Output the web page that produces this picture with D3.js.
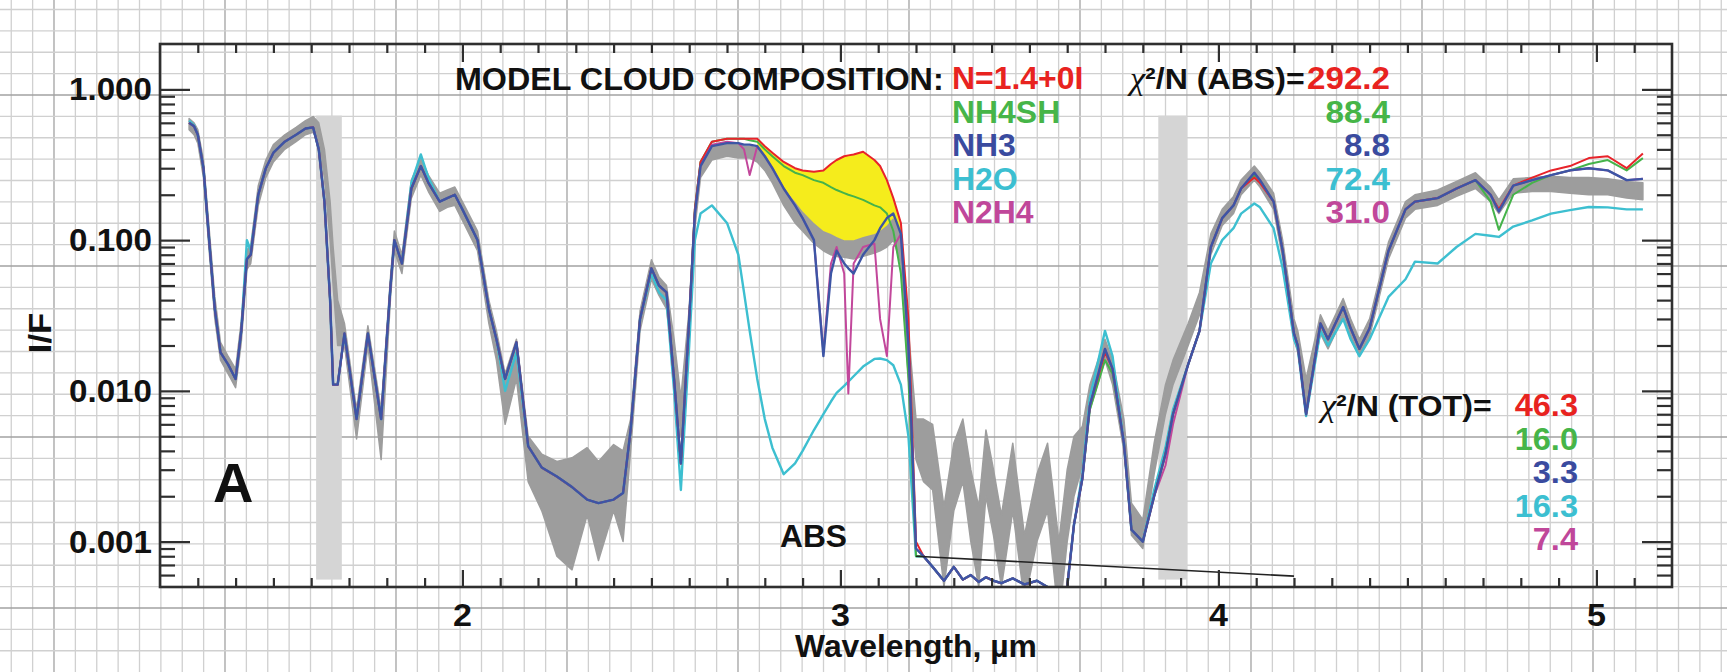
<!DOCTYPE html>
<html><head><meta charset="utf-8">
<script src="https://cdn.jsdelivr.net/npm/d3@7"></script>
<style>html,body{margin:0;padding:0;background:#fff;overflow:hidden}</style>
</head><body>
<svg id="chart" width="1727" height="672"></svg>
<script>
// ---------------- DATA ----------------
const wavelength = [
1.277,1.29,1.30,1.315,1.33,1.345,1.36,1.38,1.40,1.415,
1.43,1.44,1.46,1.48,1.50,1.53,1.56,1.585,1.605,1.62,
1.635,1.65,1.658,1.67,1.688,1.72,1.75,1.785,1.81,1.82,
1.84,1.865,1.89,1.91,1.94,1.96,1.98,2.00,2.04,2.07,
2.09,2.113,2.143,2.174,2.21,2.25,2.29,2.33,2.36,2.40,
2.425,2.445,2.47,2.50,2.52,2.54,2.56,2.578,2.60,2.615,
2.63,2.66,2.70,2.73,2.745,2.76,2.78,2.80,2.82,2.85,
2.88,2.90,2.93,2.955,2.975,2.99,3.01,3.021,3.035,3.06,
3.09,3.105,3.123,3.14,3.16,3.18,3.20,3.22,3.244,3.274,
3.30,3.324,3.345,3.366,3.385,3.405,3.426,3.456,3.487,3.52,
3.548,3.578,3.60,3.618,3.64,3.66,3.70,3.72,3.75,3.77,
3.80,3.83,3.86,3.88,3.92,3.95,3.98,4.01,4.04,4.06,
4.095,4.11,4.146,4.17,4.20,4.21,4.232,4.27,4.29,4.33,
4.35,4.373,4.40,4.45,4.495,4.52,4.58,4.63,4.68,4.72,
4.742,4.78,4.83,4.88,4.93,4.98,5.03,5.08,5.123];

// observed I/F uncertainty envelope (gray band)
const observedLow = [
0.54,0.50,0.44,0.26,0.085,0.030,0.016,0.013,0.0105,0.021,
0.064,0.07,0.17,0.26,0.33,0.40,0.45,0.50,0.52,0.44,
0.26,0.10,0.05,0.02,0.02,0.0048,0.02,0.0035,0.042,0.085,
0.06,0.19,0.27,0.21,0.155,0.165,0.17,0.135,0.085,0.028,
0.016,0.006,0.012,0.0025,0.0016,0.0008,0.00065,0.0015,0.00075,0.0016,
0.001,0.004,0.025,0.055,0.043,0.035,0.014,0.005,0.025,0.12,
0.26,0.34,0.36,0.35,0.35,0.35,0.33,0.29,0.24,0.17,
0.13,0.115,0.095,0.085,0.08,0.078,0.077,0.076,0.075,0.078,
0.082,0.085,0.09,0.10,0.07,0.012,0.0035,0.0025,0.0022,0.0005,
0.0016,0.0025,0.001,0.0005,0.002,0.0011,0.0005,0.0016,0.0004,0.001,
0.0016,0.0003,0.001,0.002,0.0032,0.0075,0.016,0.011,0.004,0.0011,
0.0009,0.0028,0.007,0.011,0.02,0.032,0.08,0.125,0.15,0.20,
0.25,0.225,0.16,0.075,0.022,0.018,0.008,0.024,0.019,0.031,
0.022,0.017,0.023,0.075,0.14,0.16,0.17,0.195,0.22,0.18,
0.15,0.205,0.21,0.21,0.205,0.20,0.20,0.19,0.185];
const observedHigh = [
0.64,0.60,0.54,0.34,0.12,0.042,0.021,0.017,0.014,0.029,
0.086,0.092,0.23,0.34,0.43,0.50,0.56,0.62,0.66,0.60,
0.40,0.18,0.09,0.04,0.028,0.0075,0.027,0.0075,0.058,0.115,
0.08,0.25,0.35,0.27,0.205,0.215,0.225,0.18,0.115,0.04,
0.025,0.013,0.022,0.005,0.0038,0.0034,0.0036,0.0042,0.0034,0.0044,
0.004,0.0065,0.034,0.074,0.057,0.05,0.022,0.009,0.035,0.17,
0.33,0.42,0.43,0.43,0.42,0.42,0.41,0.36,0.30,0.22,
0.18,0.155,0.13,0.115,0.11,0.105,0.10,0.10,0.10,0.105,
0.11,0.115,0.125,0.14,0.11,0.025,0.0065,0.0065,0.006,0.0017,
0.0045,0.0065,0.003,0.0017,0.0055,0.003,0.0015,0.0045,0.0011,0.0028,
0.0045,0.001,0.003,0.005,0.0058,0.011,0.022,0.016,0.0065,0.0018,
0.0014,0.0045,0.011,0.016,0.028,0.045,0.11,0.16,0.195,0.25,
0.31,0.28,0.205,0.10,0.03,0.025,0.012,0.032,0.025,0.041,
0.03,0.022,0.03,0.097,0.18,0.20,0.215,0.245,0.28,0.225,
0.185,0.255,0.26,0.265,0.26,0.26,0.255,0.245,0.24];

// model spectra
const modelN14 = [
0.60,0.57,0.50,0.30,0.10,0.035,0.018,0.015,0.012,0.025,
0.075,0.08,0.20,0.30,0.38,0.45,0.50,0.55,0.56,0.40,
0.18,0.04,0.011,0.011,0.024,0.0065,0.024,0.0065,0.05,0.10,
0.07,0.22,0.31,0.24,0.18,0.19,0.20,0.16,0.10,0.035,
0.022,0.012,0.021,0.0043,0.0031,0.0027,0.0023,0.0019,0.0018,0.0019,
0.0021,0.0055,0.03,0.065,0.05,0.045,0.012,0.0033,0.03,0.16,
0.33,0.45,0.47,0.47,0.47,0.47,0.47,0.42,0.38,0.33,
0.30,0.29,0.284,0.29,0.32,0.34,0.36,0.365,0.37,0.386,
0.34,0.31,0.25,0.19,0.13,0.03,0.001,0.0008,0.00068,0.00055,
0.00068,0.00056,0.0006,0.00054,0.00058,0.00055,0.00053,0.00057,0.00052,0.00055,
0.0005,0.00049,0.0005,0.0013,0.0026,0.008,0.018,0.014,0.0045,0.0012,
0.0010,0.002,0.0038,0.007,0.015,0.025,0.09,0.14,0.17,0.22,
0.26,0.24,0.18,0.085,0.024,0.02,0.007,0.028,0.022,0.036,
0.026,0.019,0.026,0.085,0.16,0.18,0.19,0.22,0.25,0.20,
0.16,0.23,0.26,0.29,0.31,0.35,0.36,0.30,0.375];
const modelNH4SH = [
0.60,0.57,0.50,0.30,0.10,0.035,0.018,0.015,0.012,0.025,
0.075,0.08,0.20,0.30,0.38,0.45,0.50,0.55,0.56,0.40,
0.18,0.04,0.011,0.011,0.024,0.0065,0.024,0.0065,0.05,0.10,
0.07,0.22,0.31,0.24,0.18,0.19,0.20,0.16,0.10,0.035,
0.022,0.012,0.021,0.0043,0.0031,0.0027,0.0023,0.0019,0.0018,0.0019,
0.0021,0.0055,0.03,0.065,0.05,0.045,0.012,0.0033,0.03,0.16,
0.33,0.45,0.47,0.47,0.47,0.46,0.45,0.40,0.36,0.31,
0.28,0.27,0.25,0.24,0.225,0.215,0.205,0.20,0.195,0.185,
0.17,0.165,0.15,0.115,0.06,0.012,0.0008,0.0008,0.00068,0.00055,
0.00068,0.00056,0.0006,0.00054,0.00058,0.00055,0.00053,0.00057,0.00052,0.00055,
0.0005,0.00049,0.0005,0.0013,0.0026,0.0075,0.016,0.013,0.0045,0.0012,
0.0010,0.002,0.0038,0.007,0.015,0.025,0.09,0.14,0.17,0.22,
0.27,0.25,0.18,0.085,0.024,0.02,0.007,0.028,0.022,0.036,
0.026,0.019,0.026,0.085,0.16,0.18,0.19,0.22,0.25,0.18,
0.117,0.20,0.24,0.27,0.29,0.32,0.34,0.29,0.35];
const modelNH3 = [
0.60,0.57,0.50,0.30,0.10,0.035,0.018,0.015,0.012,0.025,
0.075,0.08,0.20,0.30,0.38,0.45,0.50,0.55,0.56,0.40,
0.18,0.04,0.011,0.011,0.024,0.0065,0.024,0.0065,0.05,0.10,
0.07,0.22,0.31,0.24,0.18,0.19,0.20,0.16,0.10,0.035,
0.022,0.012,0.021,0.0043,0.0031,0.0027,0.0023,0.0019,0.0018,0.0019,
0.0021,0.0055,0.03,0.065,0.05,0.045,0.012,0.0033,0.03,0.15,
0.31,0.42,0.44,0.44,0.43,0.43,0.42,0.36,0.30,0.22,
0.17,0.14,0.10,0.017,0.06,0.085,0.07,0.065,0.06,0.08,
0.10,0.12,0.14,0.15,0.11,0.02,0.0009,0.0008,0.00068,0.00055,
0.00068,0.00056,0.0006,0.00054,0.00058,0.00055,0.00053,0.00057,0.00052,0.00055,
0.0005,0.00049,0.0005,0.0013,0.0026,0.008,0.019,0.014,0.0045,0.0012,
0.0010,0.002,0.0038,0.007,0.015,0.025,0.09,0.14,0.17,0.22,
0.28,0.25,0.18,0.085,0.024,0.02,0.007,0.028,0.022,0.036,
0.026,0.019,0.026,0.085,0.16,0.18,0.19,0.22,0.25,0.20,
0.155,0.23,0.25,0.27,0.29,0.30,0.29,0.25,0.255];
const modelH2O = [
0.62,0.58,0.50,0.30,0.10,0.035,0.018,0.015,0.012,0.025,
0.10,0.085,0.20,0.30,0.38,0.45,0.50,0.55,0.56,0.40,
0.18,0.04,0.011,0.011,0.024,0.0065,0.024,0.0065,0.05,0.10,
0.07,0.24,0.37,0.26,0.18,0.19,0.20,0.16,0.10,0.035,
0.022,0.010,0.018,0.0043,0.0031,0.0027,0.0023,0.0019,0.0018,0.0019,
0.0021,0.0055,0.03,0.06,0.045,0.04,0.01,0.0022,0.02,0.10,
0.15,0.17,0.13,0.08,0.045,0.025,0.012,0.0065,0.0042,0.0028,
0.0033,0.004,0.0055,0.007,0.0085,0.0097,0.0108,0.0115,0.0125,0.0145,
0.0163,0.0164,0.016,0.0148,0.011,0.005,0.0008,0.0008,0.00068,0.00055,
0.00068,0.00056,0.0006,0.00054,0.00058,0.00055,0.00053,0.00057,0.00052,0.00055,
0.0005,0.00049,0.0005,0.0013,0.0028,0.009,0.025,0.017,0.0045,0.0012,
0.0010,0.0022,0.0042,0.0075,0.015,0.025,0.07,0.10,0.12,0.15,
0.175,0.165,0.12,0.065,0.022,0.019,0.0068,0.025,0.02,0.03,
0.022,0.017,0.022,0.042,0.055,0.072,0.07,0.09,0.11,0.107,
0.105,0.123,0.135,0.15,0.158,0.166,0.165,0.16,0.16];
const modelN2H4 = [
0.60,0.57,0.50,0.30,0.10,0.035,0.018,0.015,0.012,0.025,
0.075,0.08,0.20,0.30,0.38,0.45,0.50,0.55,0.56,0.40,
0.18,0.04,0.011,0.011,0.024,0.0065,0.024,0.0065,0.05,0.10,
0.07,0.22,0.31,0.24,0.18,0.19,0.20,0.16,0.10,0.035,
0.022,0.012,0.021,0.0043,0.0031,0.0027,0.0023,0.0019,0.0018,0.0019,
0.0021,0.0055,0.03,0.065,0.05,0.045,0.012,0.0033,0.03,0.15,
0.31,0.43,0.45,0.44,0.40,0.27,0.42,0.36,0.30,0.22,
0.17,0.14,0.10,0.018,0.07,0.09,0.06,0.0096,0.07,0.09,
0.095,0.03,0.017,0.09,0.11,0.02,0.0009,0.0008,0.00068,0.00055,
0.00068,0.00056,0.0006,0.00054,0.00058,0.00055,0.00053,0.00057,0.00052,0.00055,
0.0005,0.00049,0.0005,0.0013,0.0026,0.008,0.019,0.014,0.0045,0.0012,
0.0010,0.002,0.0032,0.006,0.015,0.025,0.09,0.14,0.17,0.22,
0.28,0.25,0.18,0.085,0.024,0.02,0.007,0.028,0.022,0.036,
0.026,0.019,0.026,0.085,0.16,0.18,0.19,0.22,0.25,0.20,
0.155,0.23,0.25,0.27,0.29,0.30,0.29,0.25,0.255];

const seriesNames = ["N=1.4+0I", "NH4SH", "NH3", "H2O", "N2H4"];
const chiAbs = ["292.2", "88.4", "8.8", "72.4", "31.0"];
const chiTot = ["46.3", "16.0", "3.3", "16.3", "7.4"];
const yMajorTicks = [1, 0.1, 0.01, 0.001];
const xMajorTicks = [2, 3, 4, 5];
const xDomain = [1.2, 5.2];
const yDomain = [0.0005, 2];
const maskedBands = [[1.613, 1.681], [3.841, 3.917]];
const maskedRange = [0.00056, 0.67];
const absLine = [[3.2, 0.0008], [4.2, 0.00059]];
const yellowRange = [2.78, 3.18];

// ---------------- CHART ----------------
const colors = {"N=1.4+0I":"#e8232a","NH4SH":"#45b34a","NH3":"#3d55a5","H2O":"#3dbfd0","N2H4":"#c2479b"};
const textColors = {"N=1.4+0I":"#e8231f","NH4SH":"#46b548","NH3":"#3a4b9f","H2O":"#3cbfd1","N2H4":"#c0479a"};
const modelValues = {"N=1.4+0I":modelN14,"NH4SH":modelNH4SH,"NH3":modelNH3,"H2O":modelH2O,"N2H4":modelN2H4};
[["low",observedLow],["high",observedHigh],["n14",modelN14],["nh4sh",modelNH4SH],["nh3",modelNH3],["h2o",modelH2O],["n2h4",modelN2H4]]
  .forEach(([n,a]) => { if (a.length !== wavelength.length) throw new Error(n + " length " + a.length + " vs " + wavelength.length); });

const W = 1727, H = 672;
const P = {left:160, right:1672, top:44, bottom:587};
const SANS = "'Liberation Sans', Arial, Helvetica, sans-serif";
const svg = d3.select("#chart");
const x = d3.scaleLinear().domain(xDomain).range([P.left, P.right]);
const y = d3.scaleLog().domain(yDomain).range([P.bottom, P.top]);

// graph-paper background
const grid = svg.append("g");
const step = 21.375;
for (let k = -3; 54 + k*step < W; k++) {
  const gx = 54 + k*step;
  grid.append("line").attr("x1",gx).attr("x2",gx).attr("y1",0).attr("y2",H)
    .attr("stroke", k % 8 === 0 ? "#a2a2a2" : "#d0d0d0").attr("stroke-width", 1.3);
}
for (let k = -5; 95 + k*step < H; k++) {
  const gy = 95 + k*step;
  grid.append("line").attr("x1",0).attr("x2",W).attr("y1",gy).attr("y2",gy)
    .attr("stroke", k % 8 === 0 ? "#a2a2a2" : "#d0d0d0").attr("stroke-width", 1.3);
}

svg.append("clipPath").attr("id","plotclip").append("rect")
  .attr("x",P.left).attr("y",P.top).attr("width",P.right-P.left).attr("height",P.bottom-P.top);
const plot = svg.append("g").attr("clip-path","url(#plotclip)");

// masked wavelength bands
plot.selectAll("rect.mask").data(maskedBands).enter().append("rect").attr("class","mask")
  .attr("x", d => x(d[0])).attr("width", d => x(d[1]) - x(d[0]))
  .attr("y", y(maskedRange[1])).attr("height", y(maskedRange[0]) - y(maskedRange[1]))
  .attr("fill", "#d5d5d5");

const idx = d3.range(wavelength.length);
// observed band
plot.append("path").datum(idx)
  .attr("d", d3.area().x(i => x(wavelength[i])).y0(i => y(observedLow[i])).y1(i => y(observedHigh[i])))
  .attr("fill", "#9d9d9d").attr("stroke", "#9d9d9d").attr("stroke-width", 1.5).attr("stroke-linejoin","round");

// yellow excess area
plot.append("path").datum(idx.filter(i => wavelength[i] >= yellowRange[0] && wavelength[i] <= yellowRange[1]))
  .attr("d", d3.area().x(i => x(wavelength[i])).y0(i => y(observedHigh[i])).y1(i => y(modelN14[i])))
  .attr("fill", "#f5ec1c");

// model lines
const lineGen = vals => d3.line().x(i => x(wavelength[i])).y(i => y(Math.max(vals[i], 1e-5)))(idx);
["H2O","NH4SH","N=1.4+0I","N2H4","NH3"].forEach(name => {
  plot.append("path").attr("d", lineGen(modelValues[name]))
    .attr("fill","none").attr("stroke", colors[name])
    .attr("stroke-width", (name === "NH3" || name === "H2O") ? 2.4 : 2.0)
    .attr("stroke-linejoin","round");
});

// ABS reference line
svg.append("path").attr("d", d3.line().x(d => x(d[0])).y(d => y(d[1]))(absLine))
  .attr("stroke","#222").attr("stroke-width",1.6).attr("fill","none");

// frame + ticks
const axisStyle = g => { g.select(".domain").remove(); g.selectAll("line").attr("stroke","#2f2f2f").attr("stroke-width",2.2); g.selectAll("text").remove(); };
const xMinor = d3.range(13, 52).map(v => v/10).filter(v => !xMajorTicks.includes(v));
const yMinor = [];
[-4,-3,-2,-1,0].forEach(e => { for (let m = 2; m <= 9; m++) { const v = m*Math.pow(10,e); if (v > yDomain[0]*1.01 && v < yDomain[1]*0.99) yMinor.push(v); } });

svg.append("g").attr("transform",`translate(0,${P.bottom})`).call(d3.axisBottom(x).tickValues(xMinor).tickSize(-9)).call(axisStyle);
svg.append("g").attr("transform",`translate(0,${P.bottom})`).call(d3.axisBottom(x).tickValues(xMajorTicks).tickSize(-17)).call(axisStyle);
svg.append("g").attr("transform",`translate(0,${P.top})`).call(d3.axisTop(x).tickValues(xMinor).tickSize(-9)).call(axisStyle);
svg.append("g").attr("transform",`translate(0,${P.top})`).call(d3.axisTop(x).tickValues(xMajorTicks).tickSize(-18)).call(axisStyle);
svg.append("g").attr("transform",`translate(${P.left},0)`).call(d3.axisLeft(y).tickValues(yMinor).tickSize(-15)).call(axisStyle);
svg.append("g").attr("transform",`translate(${P.left},0)`).call(d3.axisLeft(y).tickValues(yMajorTicks).tickSize(-30)).call(axisStyle);
svg.append("g").attr("transform",`translate(${P.right},0)`).call(d3.axisRight(y).tickValues(yMinor).tickSize(-15)).call(axisStyle);
svg.append("g").attr("transform",`translate(${P.right},0)`).call(d3.axisRight(y).tickValues(yMajorTicks).tickSize(-30)).call(axisStyle);

svg.append("rect").attr("x",P.left).attr("y",P.top).attr("width",P.right-P.left).attr("height",P.bottom-P.top)
  .attr("fill","none").attr("stroke","#2f2f2f").attr("stroke-width",2.6);

// text helper
function txt(str, o) {
  const t = svg.append("text").attr("font-family", o.family || SANS).attr("font-size", o.size || 30)
    .attr("font-weight", o.weight || "bold").attr("fill", o.color || "#111")
    .attr("text-anchor", o.anchor || "start").text(str);
  let s = o.sx || 1.06;
  if (o.width) { s = o.width / t.node().getBBox().width; }
  t.attr("transform", `translate(${o.x},${o.y})${o.rotate ? ` rotate(${o.rotate})` : ""} scale(${s},1)`);
  return t;
}
function chiText(label, x0, x1, base) {
  const t = svg.append("text").attr("font-size",30).attr("fill","#111");
  t.append("tspan").attr("font-family","'Liberation Serif', 'Times New Roman', serif").attr("font-style","italic").attr("font-size",32).text("\u03C7");
  t.append("tspan").attr("font-family",SANS).attr("font-weight","bold").text("\u00B2/N (" + label + ")=");
  const s = (x1 - x0) / t.node().getBBox().width;
  t.attr("transform", `translate(${x0},${base}) scale(${s},1)`);
}

// axis labels
const fmt = d3.format(".3f");
yMajorTicks.forEach(v => txt(fmt(v), {x:152, y:y(v)+11, anchor:"end", size:31, sx:1.07}));
xMajorTicks.forEach(v => txt(String(v), {x:x(v), y:626, anchor:"middle", size:31, sx:1.1}));
txt("Wavelength, \u00B5m", {x:795, y:657, width:242, size:31});
txt("I/F", {x:51, y:333, anchor:"middle", rotate:-90, sx:1.12, size:31});

// annotations
txt("MODEL CLOUD COMPOSITION:", {x:455, y:90, width:489, size:31});
seriesNames.forEach((n,i) => txt(n, {x:952, y:89 + 33.6*i, color:textColors[n], sx:1.03, size:31}));
chiText("ABS", 1130, 1308, 89);
chiAbs.forEach((v,i) => txt(v, {x:1390, y:89 + 33.6*i, anchor:"end", color:textColors[seriesNames[i]], sx:1.07, size:31}));
chiText("TOT", 1321, 1495, 416);
chiTot.forEach((v,i) => txt(v, {x:1578, y:416 + 33.5*i, anchor:"end", color:textColors[seriesNames[i]], sx:1.05, size:31}));
txt("A", {x:213, y:502, size:56, sx:1.0});
txt("ABS", {x:780, y:547, size:31, width:67});
</script>
</body></html>
